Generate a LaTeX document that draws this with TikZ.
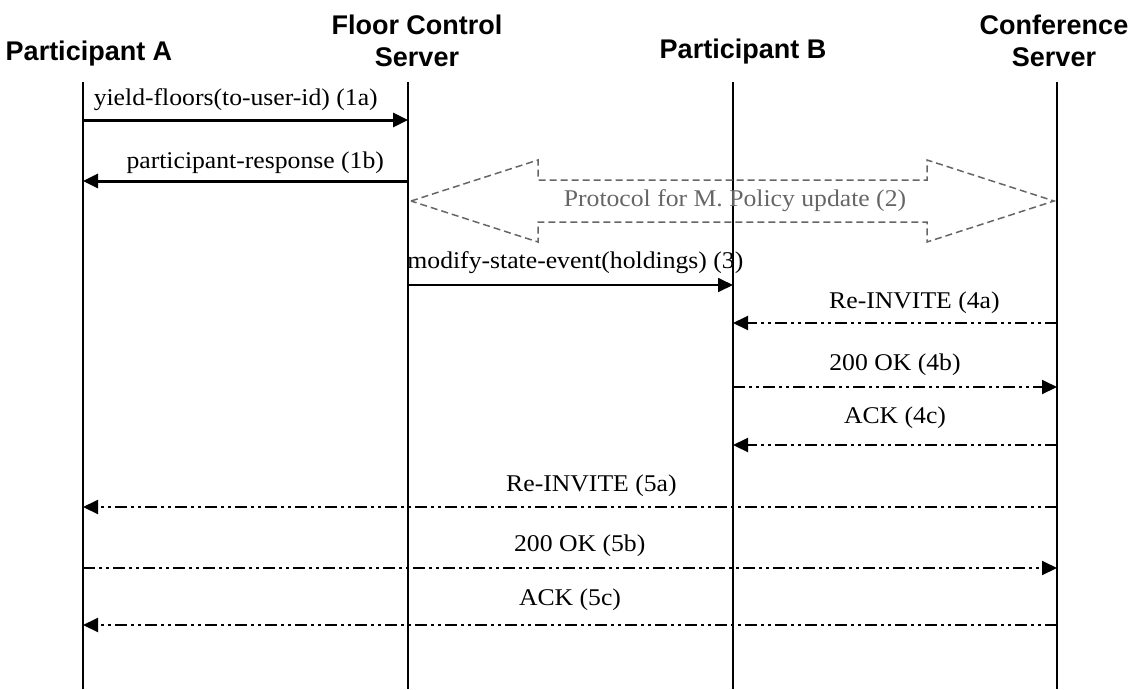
\documentclass[tikz,border=0pt]{standalone}
\usepackage{fontspec}
\setmainfont{Liberation Serif}[FakeStretch=1.07]
\setsansfont{Liberation Sans}
\usetikzlibrary{arrows.meta}

\begin{document}
\begin{tikzpicture}[x=1pt, y=-1pt, >={Triangle[length=15pt,width=14pt]},
		head/.style={font=\sffamily\bfseries\fontsize{27}{32}\selectfont, align=center, inner sep=0pt, anchor=base},
		lifeline/.style={line width=2.8pt},
		msgtext/.style={font=\fontsize{24}{28}\selectfont, inner sep=0pt},
		call/.style={->, line width=3pt},
		notify/.style={->, line width=1.8pt},
		sip/.style={->, line width=2pt, dash pattern=on 12pt off 4pt on 3pt off 4pt on 3pt off 4pt},
		policy/.style={draw=black!60, line width=1.5pt, dash pattern=on 7pt off 4pt}]
		\useasboundingbox (0, 0) rectangle (1141, 689);
		\node [head] (pa) at (89, 60.5) {Participant A};
		\node [head] (fcs) at (417, 66) {Floor Control\\Server};
		\node [head] (pb) at (743, 58.5) {Participant B};
		\node [head] (cs) at (1054, 66.5) {Conference\\Server};
		\coordinate (A) at (83, 82);
		\coordinate (F) at (408, 82);
		\coordinate (B) at (733, 82);
		\coordinate (C) at (1057, 82);
		\coordinate (bottom) at (0, 689);
		\foreach \l in {A, F, B, C}
			\draw [lifeline] (\l) -- (\l |- bottom);
		\coordinate (r1a) at (0, 120);
		\coordinate (r1b) at (0, 181);
		\coordinate (r3) at (0, 285);
		\coordinate (r4a) at (0, 323);
		\coordinate (r4b) at (0, 387);
		\coordinate (r4c) at (0, 445);
		\coordinate (r5a) at (0, 507);
		\coordinate (r5b) at (0, 568);
		\coordinate (r5c) at (0, 625);
		\draw [call] (A |- r1a) -- (F |- r1a) node [msgtext, pos=.47, above=8pt] {yield-floors(to-user-id) (1a)};
		\draw [call] (F |- r1b) -- (A |- r1b) node [msgtext, pos=.47, above=6pt] {participant-response (1b)};
		\draw [policy] (411, 201) -- (538, 160) -- (538, 180) -- (927, 180) -- (927, 160) -- (1054, 201)
			-- (927, 242) -- (927, 222) -- (538, 222) -- (538, 242) -- cycle;
		\node [msgtext, text=black!60] (upd) at (735, 201) {Protocol for M. Policy update (2)};
		\draw [notify] (F |- r3) -- (B |- r3) node [msgtext, pos=.515, above=10pt] {modify-state-event(holdings) (3)};
		\draw [sip] (C |- r4a) -- (B |- r4a) node [msgtext, pos=.44, above=8pt] {Re-INVITE (4a)};
		\draw [sip] (B |- r4b) -- (C |- r4b) node [msgtext, pos=.5, above=10pt] {200 OK (4b)};
		\draw [sip] (C |- r4c) -- (B |- r4c) node [msgtext, pos=.5, above=15pt] {ACK (4c)};
		\draw [sip] (C |- r5a) -- (A |- r5a) node [msgtext, pos=.478, above=9pt] {Re-INVITE (5a)};
		\draw [sip] (A |- r5b) -- (C |- r5b) node [msgtext, pos=.51, above=10pt] {200 OK (5b)};
		\draw [sip] (C |- r5c) -- (A |- r5c) node [msgtext, pos=.5, above=13pt] {ACK (5c)};
	\end{tikzpicture}
\end{document}
